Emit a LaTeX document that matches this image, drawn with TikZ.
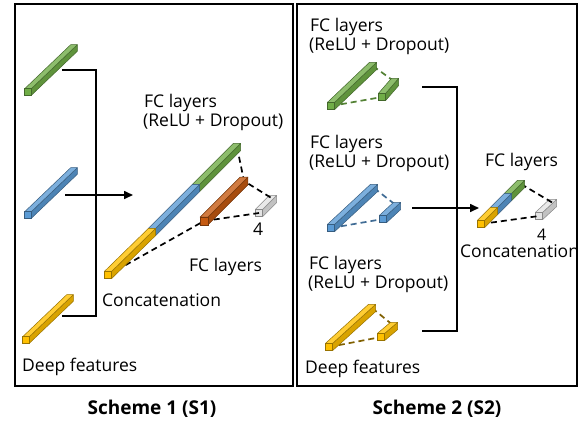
\documentclass[tikz,border=0pt]{standalone}
\usepackage{fontspec}
\setmainfont{Open Sans}
\usetikzlibrary{calc,arrows.meta}
\definecolor{cgreen}{HTML}{70AD47}
\definecolor{cblue}{HTML}{5B9BD5}
\definecolor{cyellow}{HTML}{FFC000}
\definecolor{corange}{HTML}{C55A11}
\definecolor{cgrey}{HTML}{E4E4E4}
% #1 name, #2,#3 front-face centre, #4,#5 back-face centre
\newcommand\prismends[5]{%
  \coordinate (#1-f) at (#2,#3);
  \coordinate (#1-b) at (#4,#5);
}
% #1 name, #2,#3 front-face centre, #4,#5 back-face centre, #6 half size, #7 colour
\newcommand\prism[7]{%
  \prismends{#1}{#2}{#3}{#4}{#5}%
  \path[draw=#7!60!black, line width=0.5pt, line join=round, fill=#7!85!black]
    ($(#1-f)+(#6,#6)$) -- ($(#1-f)+(#6,-#6)$) -- ($(#1-b)+(#6,-#6)$) -- ($(#1-b)+(#6,#6)$) -- cycle;
  \path[draw=#7!60!black, line width=0.5pt, line join=round, fill=#7!80!white]
    ($(#1-f)+(-#6,-#6)$) -- ($(#1-f)+(#6,-#6)$) -- ($(#1-b)+(#6,-#6)$) -- ($(#1-b)+(-#6,-#6)$) -- cycle;
  \path[draw=#7!60!black, line width=0.5pt, fill=#7]
    ($(#1-f)+(-#6,-#6)$) rectangle ($(#1-f)+(#6,#6)$);
}
\begin{document}
\begin{tikzpicture}[x=1pt,y=-1pt,
  frame/.style={draw=black, line width=1.6pt},
  lbl/.style={anchor=base west, inner sep=0pt, font=\fontsize{17.5}{20}\selectfont},
  capt/.style={anchor=base, inner sep=0pt, font=\bfseries\fontsize{19}{22}\selectfont},
  conn/.style={draw=black, line width=1.6pt},
  arr/.style={conn, -{Triangle[length=9pt,width=8pt]}},
  dsh/.style={dash pattern=on 6pt off 4pt, line width=1.7pt}]
\useasboundingbox (0,0) rectangle (578,421);
\fill[white] (0,0) rectangle (578,421);

% frames
\draw[frame] (15,4) rectangle (293,386);
\draw[frame] (297,4) rectangle (577,386);

% ---------------- Scheme 1 ----------------
\coordinate (l-g) at (62,70);
\coordinate (l-y) at (62,316);
\coordinate (l-s) at (65,195);
\coordinate (l-t) at (133,195);
\draw[conn] (l-g) -- ++(34,0) |- (l-y);
\draw[arr] (l-s) -- (l-t);

% deep features
\prism{lg}{28}{92}{74}{48}{3.3}{cgreen}
\prism{lb}{28}{215}{74}{171}{3.3}{cblue}
\prism{ly}{26}{340}{70}{298}{3.3}{cyellow}

% end points of the concatenated vector and the FC layers
\prismends{lcg}{196}{188}{237}{147}
\prismends{lcy}{108}{275}{152}{232}
\prismends{lor}{204}{221}{244}{181}
\prism{lgr}{259}{213}{273}{199}{3.6}{cgrey}
\draw[dsh] (lcg-b) -- (lor-b) -- (lgr-b);
\draw[dsh] (lcy-f) -- (lor-f) -- (lgr-f);
\prism{lor}{204}{221}{244}{181}{3.9}{corange}
\prism{lcg}{196}{188}{237}{147}{3.6}{cgreen}
\prism{lcb}{152}{232}{196}{188}{3.6}{cblue}
\prism{lcy}{108}{275}{152}{232}{3.6}{cyellow}

\node[lbl] (l-fc1) at (144,107) {FC layers};
\node[lbl] (l-fc1b) at (143,126) {(ReLU + Dropout)};
\node[lbl] (l-fc2) at (189,271) {FC layers};
\node[lbl] (l-four) at (253,235) {4};
\node[lbl] (l-cat) at (102,306) {Concatenation};
\node[lbl] (l-deep) at (22,371) {Deep features};

% ---------------- Scheme 2 ----------------
\coordinate (r-g) at (422,87);
\coordinate (r-y) at (422,331);
\coordinate (r-s) at (412,208);
\coordinate (r-t) at (479,208);
\draw[conn] (r-g) -- ++(35,0) |- (r-y);
\draw[arr] (r-s) -- (r-t);

\prismends{rgL}{331}{106}{373}{66}
\prismends{rgS}{382}{97}{395}{82}
\prismends{rbL}{331}{228}{374}{188}
\prismends{rbS}{383}{219}{397}{206}
\prismends{ryL}{329}{347}{372}{308}
\prismends{ryS}{381}{337}{394}{326}
\draw[dsh, draw=cgreen!75!black] (rgL-b) -- (rgS-b);
\draw[dsh, draw=cgreen!75!black] (rgL-f) -- (rgS-f);
\draw[dsh, draw=cblue!70!black] (rbL-b) -- (rbS-b);
\draw[dsh, draw=cblue!70!black] (rbL-f) -- (rbS-f);
\draw[dsh, draw=cyellow!50!black] (ryL-b) -- (ryS-b);
\draw[dsh, draw=cyellow!50!black] (ryL-f) -- (ryS-f);
\prism{rgL}{331}{106}{373}{66}{3.6}{cgreen}
\prism{rgS}{382}{97}{395}{82}{3.6}{cgreen}
\prism{rbL}{331}{228}{374}{188}{3.6}{cblue}
\prism{rbS}{383}{219}{397}{206}{3.6}{cblue}
\prism{ryL}{329}{347}{372}{308}{3.6}{cyellow}
\prism{ryS}{381}{337}{394}{326}{3.6}{cyellow}

% concatenation
\prismends{rcg}{508}{197}{521}{184}
\prismends{rcy}{481}{224}{494}{211}
\prism{rgr}{539}{216}{553}{203}{3.6}{cgrey}
\draw[dsh] (rcg-b) -- (rgr-b);
\draw[dsh] (rcy-f) -- (rgr-f);
\prism{rcg}{508}{197}{521}{184}{3.6}{cgreen}
\prism{rcb}{494}{211}{508}{197}{3.6}{cblue}
\prism{rcy}{481}{224}{494}{211}{3.6}{cyellow}

\node[lbl] (r-fc1) at (310,31) {FC layers};
\node[lbl] (r-fc1b) at (309,50) {(ReLU + Dropout)};
\node[lbl] (r-fc2) at (310,148) {FC layers};
\node[lbl] (r-fc2b) at (309,167) {(ReLU + Dropout)};
\node[lbl] (r-fc3) at (309,269) {FC layers};
\node[lbl] (r-fc3b) at (308,288) {(ReLU + Dropout)};
\node[lbl] (r-deep) at (305,373) {Deep features};
\node[lbl] (r-fc4) at (485,166) {FC layers};
\node[lbl, font=\fontsize{16}{18}\selectfont] (r-four) at (537,240) {4};
\node[lbl] (r-cat) at (460,257) {Concatenation};

% captions
\node[capt] (cap1) at (152,414) {Scheme 1 (S1)};
\node[capt] (cap2) at (437,414) {Scheme 2 (S2)};
\end{tikzpicture}
\end{document}
